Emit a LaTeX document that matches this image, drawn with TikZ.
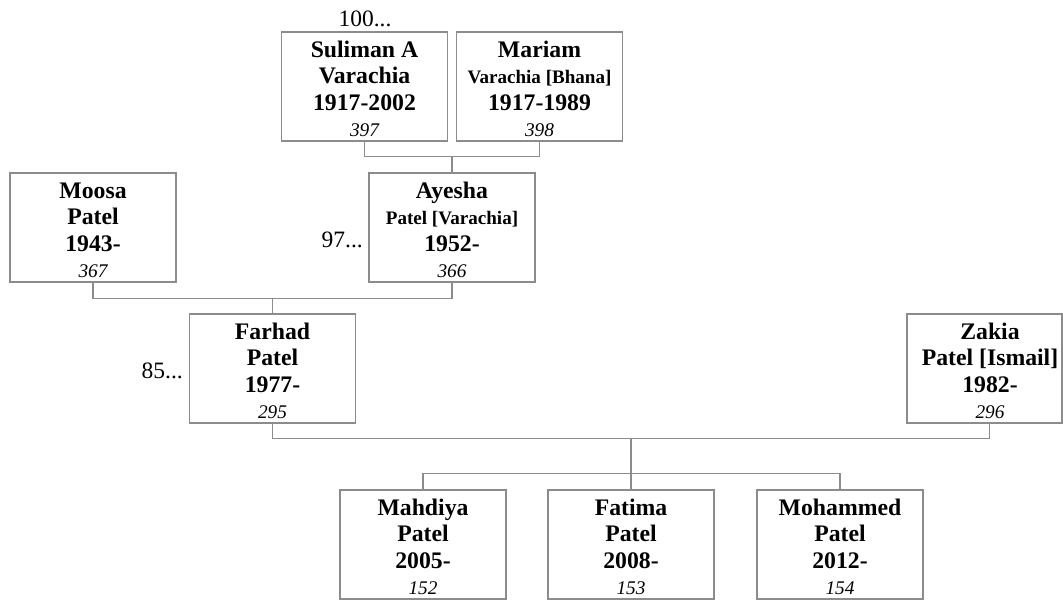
\documentclass[tikz,border=0pt]{standalone}
\usepackage{fontspec}
\setmainfont{Liberation Serif}
\usetikzlibrary{calc}
\definecolor{linegray}{RGB}{140,140,140}
\tikzset{
  pbox/.style={draw=linegray, line width=0.9pt, rectangle, inner sep=0pt,
    minimum width=124.5pt, minimum height=81.75pt},
  conn/.style={draw=linegray, line width=0.9pt},
  big/.style={font=\fontsize{17.8}{20}\selectfont\bfseries, inner sep=0pt, anchor=base},
  sml/.style={font=\fontsize{14.3}{16}\selectfont\bfseries, inner sep=0pt, anchor=base},
  num/.style={font=\fontsize{14.5}{16}\selectfont\itshape, inner sep=0pt, anchor=base},
  lab/.style={font=\fontsize{17.6}{20}\selectfont, inner sep=0pt, anchor=base},
}
% #1 name, #2 centre x, #3 top y, #4 line1, #5 style of line2, #6 line2, #7 line3, #8 number
\newcommand\person[8]{%
  \node[pbox] (#1) at (#2,#3+54.5) {};
  \node[big] (#1-a) at (#2,#3+25) {#4};
  \node[#5] (#1-b) at (#2,#3+51) {#6};
  \node[big] (#1-c) at (#2,#3+78) {#7};
  \node[num] (#1-d) at (#2,#3+104) {#8};
}
\begin{document}
\begin{tikzpicture}[x=0.75pt,y=-0.75pt]
\useasboundingbox (0,0) rectangle (1063,601);

\person{suliman}{364.5}{32}{Suliman A}{big}{Varachia}{1917-2002}{397}
\person{mariam}{539.5}{32}{Mariam}{sml}{Varachia [Bhana]}{1917-1989}{398}
\person{moosa}{93}{173}{Moosa}{big}{Patel}{1943-}{367}
\person{ayesha}{452}{173}{Ayesha}{sml}{Patel [Varachia]}{1952-}{366}
\person{farhad}{272.5}{314}{Farhad}{big}{Patel}{1977-}{295}
\person{mahdiya}{423}{490}{Mahdiya}{big}{Patel}{2005-}{152}
\person{fatima}{631}{490}{Fatima}{big}{Patel}{2008-}{153}
\person{mohammed}{840}{490}{Mohammed}{big}{Patel}{2012-}{154}

% Zakia: box cut at the right edge
\node[pbox, minimum width=116.25pt] (zakia) at (984.5,368.5) {};
\node[big] (zakia-a) at (990,339) {Zakia};
\node[big] (zakia-b) at (990,365) {Patel [Ismail]};
\node[big] (zakia-c) at (990,392) {1982-};
\node[num] (zakia-d) at (990,418) {296};
\coordinate (zs) at ($(zakia.south west)+(83,0)$);

% extra labels
\node[lab] (l100) at (365,26) {100...};
\node[lab, anchor=base east] (l97) at (363,247) {97...};
\node[lab, anchor=base east] (l85) at (183,378) {85...};

% connectors
\draw[conn] (suliman.south) -- ++(0,15) coordinate (b1) -| (mariam.south);
\draw[conn] (ayesha.north) -- (ayesha.north |- b1);

\draw[conn] (moosa.south) -- ++(0,16) coordinate (b2) -| (ayesha.south);
\draw[conn] (farhad.north) -- (farhad.north |- b2);

\draw[conn] (farhad.south) -- ++(0,15) coordinate (b3) -| (zs);
\draw[conn] (fatima.north) -- (fatima.north |- b3);
\draw[conn] (mahdiya.north) -- ++(0,-16) -| (mohammed.north);
\end{tikzpicture}
\end{document}
